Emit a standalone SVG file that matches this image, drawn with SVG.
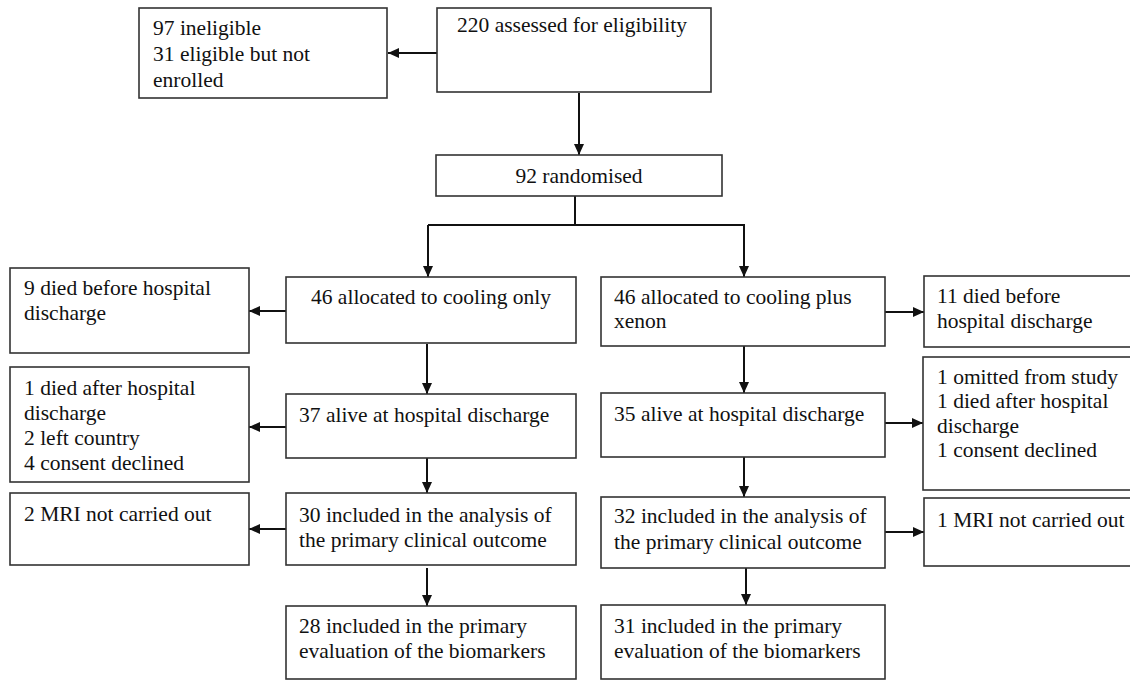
<svg xmlns="http://www.w3.org/2000/svg" width="1130" height="680" viewBox="0 0 1130 680">
<style>
.box{fill:#fff;stroke:#333;stroke-width:1.6}
.t{font-family:"Liberation Serif","Times New Roman",serif;font-size:21.5px;fill:#111}
.c{text-anchor:middle}
.ln{fill:none;stroke:#111;stroke-width:2}
.ar{fill:none;stroke:#111;stroke-width:2;marker-end:url(#ah)}
</style>
<defs>
<marker id="ah" markerUnits="userSpaceOnUse" markerWidth="11" markerHeight="10" refX="11" refY="5" orient="auto">
<path d="M0,0 L11,5 L0,10 z" fill="#111"/>
</marker>
</defs>
<rect width="1130" height="680" fill="#fff"/>
<g id="connectors">
<line class="ar" x1="437" y1="53" x2="388" y2="53"/>
<line class="ar" x1="579" y1="93" x2="579" y2="155"/>
<path class="ln" d="M575,196 V225 M428,225 H744"/>
<line class="ar" x1="428" y1="225" x2="428" y2="277"/>
<line class="ar" x1="744" y1="224" x2="744" y2="277"/>
<line class="ar" x1="286" y1="311" x2="249" y2="311"/>
<line class="ar" x1="885" y1="312" x2="924" y2="312"/>
<line class="ar" x1="427" y1="344" x2="427" y2="394"/>
<line class="ar" x1="744" y1="346" x2="744" y2="393"/>
<line class="ar" x1="286" y1="427" x2="249" y2="427"/>
<line class="ar" x1="885" y1="423" x2="923" y2="423"/>
<line class="ar" x1="427" y1="458" x2="427" y2="493"/>
<line class="ar" x1="744" y1="457" x2="744" y2="497"/>
<line class="ar" x1="286" y1="529" x2="249" y2="529"/>
<line class="ar" x1="885" y1="532" x2="924" y2="532"/>
<line class="ar" x1="427" y1="568" x2="427" y2="606"/>
<line class="ar" x1="746" y1="568" x2="746" y2="605"/>
</g>
<g id="excluded">
<rect class="box" x="139" y="8" width="248" height="90"/>
<text class="t" x="153" y="35">97 ineligible</text>
<text class="t" x="153" y="61">31 eligible but not</text>
<text class="t" x="153" y="87">enrolled</text>
</g>
<g id="assessed">
<rect class="box" x="437" y="8" width="274" height="84"/>
<text class="t" x="457" y="32">220 assessed for eligibility</text>
</g>
<g id="randomised">
<rect class="box" x="436" y="155" width="286" height="41"/>
<text class="t c" x="579" y="183">92 randomised</text>
</g>
<g id="cooling-only">
<rect class="box" x="286" y="277" width="290" height="66"/>
<text class="t c" x="431" y="304">46 allocated to cooling only</text>
</g>
<g id="died-before-left">
<rect class="box" x="10" y="268" width="239" height="85"/>
<text class="t" x="24" y="295">9 died before hospital</text>
<text class="t" x="24" y="320">discharge</text>
</g>
<g id="cooling-xenon">
<rect class="box" x="601" y="277" width="284" height="69"/>
<text class="t" x="614" y="304">46 allocated to cooling plus</text>
<text class="t" x="614" y="328">xenon</text>
</g>
<g id="died-before-right">
<rect class="box" x="924" y="276" width="212" height="71"/>
<text class="t" x="937" y="303">11 died before</text>
<text class="t" x="937" y="328">hospital discharge</text>
</g>
<g id="alive-left">
<rect class="box" x="286" y="394" width="290" height="64"/>
<text class="t" x="299" y="422">37 alive at hospital discharge</text>
</g>
<g id="lost-left">
<rect class="box" x="10" y="367" width="239" height="115"/>
<text class="t" x="24" y="395">1 died after hospital</text>
<text class="t" x="24" y="420">discharge</text>
<text class="t" x="24" y="445">2 left country</text>
<text class="t" x="24" y="470">4 consent declined</text>
</g>
<g id="alive-right">
<rect class="box" x="601" y="393" width="284" height="64"/>
<text class="t" x="614" y="421">35 alive at hospital discharge</text>
</g>
<g id="lost-right">
<rect class="box" x="923" y="357" width="213" height="133"/>
<text class="t" x="937" y="384">1 omitted from study</text>
<text class="t" x="937" y="408">1 died after hospital</text>
<text class="t" x="937" y="433">discharge</text>
<text class="t" x="937" y="457">1 consent declined</text>
</g>
<g id="analysis-left">
<rect class="box" x="286" y="493" width="290" height="72"/>
<text class="t" x="299" y="522">30 included in the analysis of</text>
<text class="t" x="299" y="547">the primary clinical outcome</text>
</g>
<g id="mri-left">
<rect class="box" x="10" y="493" width="239" height="72"/>
<text class="t" x="24" y="521">2 MRI not carried out</text>
</g>
<g id="analysis-right">
<rect class="box" x="601" y="497" width="284" height="71"/>
<text class="t" x="614" y="523">32 included in the analysis of</text>
<text class="t" x="614" y="549">the primary clinical outcome</text>
</g>
<g id="mri-right">
<rect class="box" x="924" y="498" width="212" height="68"/>
<text class="t" x="937" y="527">1 MRI not carried out</text>
</g>
<g id="biomarkers-left">
<rect class="box" x="286" y="606" width="290" height="73"/>
<text class="t" x="299" y="633">28 included in the primary</text>
<text class="t" x="299" y="658">evaluation of the biomarkers</text>
</g>
<g id="biomarkers-right">
<rect class="box" x="601" y="605" width="284" height="74"/>
<text class="t" x="614" y="633">31 included in the primary</text>
<text class="t" x="614" y="658">evaluation of the biomarkers</text>
</g>
</svg>
